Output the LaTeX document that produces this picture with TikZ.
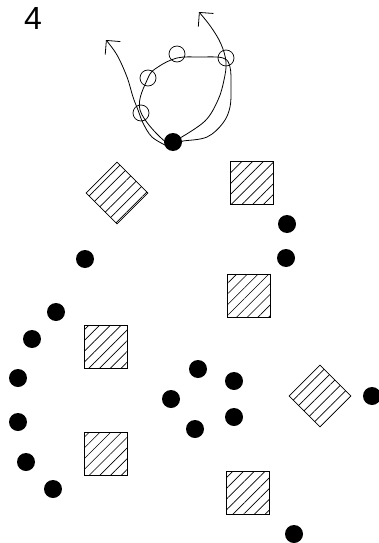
\documentclass[tikz,border=0pt]{standalone}
\usepackage{fontspec}
\setmainfont{Liberation Sans}
\usetikzlibrary{patterns.meta,arrows.meta,shapes.geometric}
\begin{document}
\begin{tikzpicture}[x=1pt,y=-1pt,
  dot/.style={circle,fill=black,inner sep=0pt,minimum size=18pt},
  ring/.style={circle,draw=black,line width=0.7pt,inner sep=0pt,minimum size=16pt},
  hatch/.style={draw=black,line width=0.8pt,inner sep=0pt,
    pattern={Lines[angle=45,distance=7.6pt,line width=0.7pt]}},
  hatchbox/.style={hatch,rectangle,minimum size=43pt},
  hatchdiamond/.style={hatch,diamond,aspect=1,minimum size=62pt},
  curve/.style={line width=0.8pt},
  tip/.style={-{Straight Barb[length=10pt,width=20pt,line width=0.8pt]}}]
\useasboundingbox (0,0) rectangle (379,543);
\node[font=\fontsize{32}{32}\selectfont] (num) at (33,18) {4};
% top loop figure
\draw[curve] plot[smooth cycle,tension=0.6] coordinates {(167,143) (140,110) (148,78) (158,67) (177,58) (200,57) (223,58) (230,67) (231,87) (230,107) (223,123) (207,137) (183,141)};
\draw[curve,tip] plot[smooth,tension=0.6] coordinates {(167,146) (152,137) (143,123) (138,110) (133,97) (127,77) (117,55) (106,40)};
\draw[curve,tip] plot[smooth,tension=0.6] coordinates {(180,138) (205,121) (218,100) (224,80) (226,62) (221,44) (211,27) (199,12)};
\node[ring] (r1) at (141,113) {};
\node[ring] (r2) at (148,78) {};
\node[ring] (r3) at (177,54) {};
\node[ring] (r4) at (226,58) {};
\node[dot] (d0) at (173,142) {};
% hatched shapes
\node[hatchdiamond] (h1) at (117,193) {};
\node[hatchbox] (h2) at (252,183) {};
\node[hatchbox] (h3) at (249,296) {};
\node[hatchbox] (h4) at (106,347) {};
\node[hatchbox] (h5) at (106,454) {};
\node[hatchbox] (h6) at (248,493) {};
\node[hatchdiamond] (h7) at (320,396) {};
% dots
\node[dot] (d1) at (287,224) {};
\node[dot] (d2) at (286,258) {};
\node[dot] (d3) at (85,259) {};
\node[dot] (d4) at (56,312) {};
\node[dot] (d5) at (32,339) {};
\node[dot] (d6) at (18,378) {};
\node[dot] (d7) at (18,422) {};
\node[dot] (d8) at (26,462) {};
\node[dot] (d9) at (53,489) {};
\node[dot] (d10) at (198,369) {};
\node[dot] (d11) at (171,399) {};
\node[dot] (d12) at (234,381) {};
\node[dot] (d13) at (234,417) {};
\node[dot] (d14) at (195,429) {};
\node[dot] (d15) at (372,396) {};
\node[dot] (d16) at (294,534) {};
\end{tikzpicture}
\end{document}
